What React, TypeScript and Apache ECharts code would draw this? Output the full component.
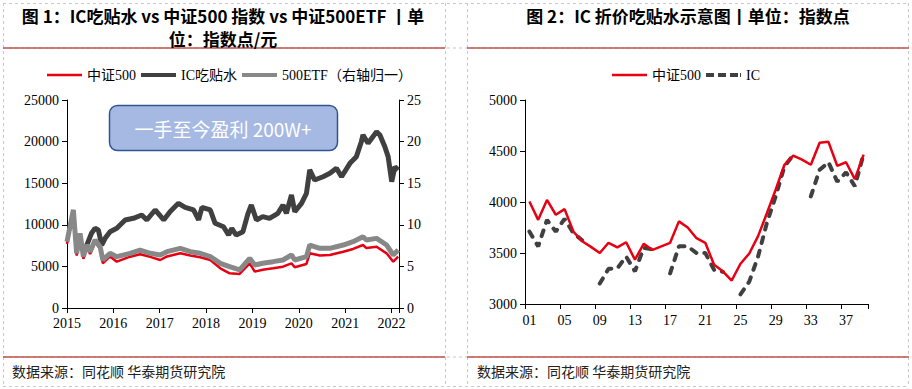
import React, { useEffect, useRef } from "react";
import * as echarts from "echarts";

// ---------- Figure 1 data ----------
const indexDates = [
  "2015-01-01", "2015-02-20", "2015-03-18", "2015-04-14", "2015-05-10", "2015-06-04",
  "2015-07-02", "2015-08-10", "2015-09-19", "2015-10-10", "2015-12-06", "2016-01-28",
  "2016-05-13", "2016-07-30", "2016-10-18", "2017-01-05", "2017-02-27", "2017-06-12",
  "2017-08-30", "2017-11-16", "2018-02-03", "2018-04-23", "2018-07-05", "2018-09-22",
  "2018-12-10", "2019-01-19", "2019-03-23", "2019-06-12", "2019-08-29", "2019-11-04",
  "2019-11-30", "2020-03-01", "2020-03-27", "2020-06-15", "2020-09-02", "2020-12-16",
  "2021-03-04", "2021-05-21", "2021-06-17", "2021-09-05", "2021-11-23", "2022-01-14",
  "2022-02-22",
];
const csi500Values = [
  7700, 11500, 6300, 8700, 5900, 7300,
  6500, 7900, 7100, 5370, 6200, 5570,
  6170, 6450, 6150, 5770, 6200, 6570,
  6300, 6090, 5770, 4770, 4170, 4090,
  5370, 4370, 4600, 4770, 4970, 5370,
  4900, 5290, 6570, 6300, 6370, 6770,
  7100, 7570, 7200, 7370, 6570, 5570,
  6170,
];
const etfValues = [
  7.97, 11.8, 6.57, 8.97, 6.17, 7.57,
  6.77, 8.17, 7.37, 5.77, 6.57, 6.17,
  6.57, 6.97, 6.57, 6.37, 6.77, 7.17,
  6.77, 6.57, 6.17, 5.37, 4.97, 4.57,
  5.97, 5.17, 5.37, 5.57, 5.77, 6.37,
  5.77, 6.17, 7.57, 7.17, 7.17, 7.57,
  7.97, 8.57, 8.17, 8.37, 7.57, 6.37,
  6.97,
];
const icDates = [
  "2015-06-04", "2015-07-13", "2015-08-09", "2015-09-05", "2015-10-01", "2015-10-28",
  "2015-12-06", "2016-01-28", "2016-04-03", "2016-06-07", "2016-08-12", "2016-09-21",
  "2016-11-26", "2017-02-01", "2017-03-23", "2017-05-28", "2017-07-20", "2017-09-24",
  "2017-11-03", "2017-11-29", "2018-02-03", "2018-03-13", "2018-05-18", "2018-06-27",
  "2018-07-22", "2018-08-26", "2018-10-18", "2018-11-27", "2018-12-23", "2019-02-01",
  "2019-03-23", "2019-05-15", "2019-07-20", "2019-08-29", "2019-09-25", "2019-11-04",
  "2019-11-30", "2020-01-22", "2020-03-01", "2020-03-27", "2020-05-05", "2020-07-10",
  "2020-09-02", "2020-10-24", "2020-12-03", "2021-02-07", "2021-03-30", "2021-05-08",
  "2021-05-21", "2021-06-30", "2021-09-05", "2021-10-01", "2021-11-09", "2021-12-05",
  "2022-01-02", "2022-01-27", "2022-02-22",
];
const icValues = [
  7500, 8980, 9580, 9375, 7570, 8380,
  9170, 9580, 10580, 10780, 11180, 10580,
  11780, 10580, 11575, 12580, 12100, 11780,
  10580, 12100, 11780, 10180, 9770, 8770,
  9570, 8770, 9170, 11380, 12380, 10580,
  10980, 10780, 11380, 12380, 11380, 13580,
  11580, 12580, 13780, 16590, 15380, 15780,
  16190, 16790, 15780, 17390, 18190, 19990,
  20800, 19800, 21190, 20800, 19390, 18190,
  15180, 16990, 16590,
];
const leftTickMin = 2015;
const leftTickMax = 2022.16;

// ---------- Figure 2 data ----------
const weekLabels = [
  "01", "02", "03", "04", "05", "06", "07", "08", "09", "10",
  "11", "12", "13", "14", "15", "16", "17", "18", "19", "20",
  "21", "22", "23", "24", "25", "26", "27", "28", "29", "30",
  "31", "32", "33", "34", "35", "36", "37", "38", "39",
];
const csi500Weekly = [
  4005, 3825, 4020, 3875, 3930, 3710, 3615, 3560, 3500, 3600,
  3555, 3605, 3435, 3590, 3530, 3565, 3600, 3810, 3750, 3645,
  3600, 3385, 3320, 3230, 3395, 3495, 3665, 3890, 4120, 4365,
  4455, 4415, 4365, 4580, 4590, 4355, 4390, 4225, 4465,
];
const icWeekly = [
  3710, 3565, 3825, 3710, 3835, 3695, 3625, null, 3200, 3345,
  3350, 3465, 3320, 3550, 3535, null, 3300, 3565, 3565, 3500,
  3500, 3335, 3315, null, 3095, 3220, 3465, 3795, 4055, 4350,
  4460, null, 4055, 4315, 4390, 4200, 4290, 4155, 4470,
];

const toYear = (s: string) => {
  const [y, m, d] = s.split("-").map(Number);
  const start = Date.UTC(y, 0, 1);
  const end = Date.UTC(y + 1, 0, 1);
  return y + (Date.UTC(y, m - 1, d) - start) / (end - start);
};

const RED = "#e60012";
const DARK = "#404040";
const GRAY = "#888888";
const SERIF = "'Liberation Serif', 'Noto Sans CJK SC', serif";
const CJK = "'Noto Sans CJK SC', sans-serif";

const ICON_THIN = "path://M0,0H35V2.5H0Z";
const ICON_THICK = "path://M0,0H35V4H0Z";
const ICON_DASH = "path://M0,0H8V4H0ZM12,0H20V4H12ZM24,0H32V4H24ZM34,0H35V4H34Z";

export default function App() {
  const ref = useRef<HTMLDivElement>(null);

  useEffect(() => {
    if (!ref.current) return;
    const chart = echarts.init(ref.current, undefined, { renderer: "svg" });

    const axisLabel = { color: "#000", fontSize: 14, fontFamily: SERIF, formatter: (v: number) => String(v) };
    const axisLine = { show: true, lineStyle: { color: "#000", width: 1 } };
    const axisTick = { show: true, length: 5, lineStyle: { color: "#000" } };

    const dashed = { stroke: "#c8c8c8", lineWidth: 1, lineDash: [3, 3] };
    const redLine = { stroke: "#c0504d", lineWidth: 1.5 };
    const hLine = (x1: number, x2: number, y: number, style: any) => ({
      type: "line", silent: true, shape: { x1, y1: y, x2, y2: y }, style,
    });
    const vLine = (x: number, y1: number, y2: number, style: any) => ({
      type: "line", silent: true, shape: { x1: x, y1, x2: x, y2 }, style,
    });
    const text = (x: number, y: number, t: string, opts: any) => ({
      type: "text", silent: true, x, y,
      style: { text: t, align: "center", verticalAlign: "middle", fill: "#000", ...opts },
    });

    chart.setOption({
      animation: false,
      backgroundColor: "#fff",
      grid: [
        { left: 67, top: 100, width: 332, height: 208 },
        { left: 525, top: 100, width: 343, height: 204 },
      ],
      legend: [
        {
          left: 42, top: 63, itemWidth: 35, itemHeight: 14, itemGap: 5,
          data: [
            { name: "中证500", icon: ICON_THIN },
            { name: "IC吃贴水", icon: ICON_THICK },
            { name: "500ETF（右轴归一）", icon: ICON_THICK },
          ],
          textStyle: { fontSize: 14, fontFamily: SERIF, color: "#000" },
        },
        {
          left: 607, top: 63, itemWidth: 35, itemHeight: 14, itemGap: 5,
          data: [
            { name: "中证500", icon: ICON_THIN },
            { name: "IC", icon: ICON_DASH },
          ],
          textStyle: { fontSize: 14, fontFamily: SERIF, color: "#000" },
        },
      ],
      xAxis: [
        {
          type: "value", gridIndex: 0, min: leftTickMin, max: leftTickMax, interval: 1,
          splitLine: { show: false }, axisLine, axisTick,
          axisLabel: {
            ...axisLabel, margin: 8,
            formatter: (v: number) => (Math.abs(v - Math.round(v)) < 1e-6 ? String(Math.round(v)) : ""),
          },
        },
        {
          type: "category", gridIndex: 1, data: weekLabels, boundaryGap: true,
          axisLine, axisTick: { ...axisTick, interval: 3 },
          axisLabel: { color: "#000", fontSize: 14, fontFamily: SERIF, interval: 3, margin: 9 },
        },
      ],
      yAxis: [
        {
          type: "value", gridIndex: 0, position: "left", min: 0, max: 25000, interval: 5000,
          splitLine: { show: false }, axisLine, axisTick, axisLabel,
        },
        {
          type: "value", gridIndex: 0, position: "right", min: 0, max: 25, interval: 5,
          splitLine: { show: false }, axisLine, axisTick, axisLabel,
        },
        {
          type: "value", gridIndex: 1, min: 3000, max: 5000, interval: 500,
          splitLine: { show: false }, axisLine, axisTick, axisLabel,
        },
      ],
      series: [
        {
          name: "中证500", type: "line", xAxisIndex: 0, yAxisIndex: 0, symbol: "none",
          data: indexDates.map((d, i) => [toYear(d), csi500Values[i]]),
          lineStyle: { color: RED, width: 2.5 }, itemStyle: { color: RED },
        },
        {
          name: "IC吃贴水", type: "line", xAxisIndex: 0, yAxisIndex: 0, symbol: "none",
          data: icDates.map((d, i) => [toYear(d), icValues[i]]),
          lineStyle: { color: DARK, width: 5 }, itemStyle: { color: DARK },
        },
        {
          name: "500ETF（右轴归一）", type: "line", xAxisIndex: 0, yAxisIndex: 1, symbol: "none",
          data: indexDates.map((d, i) => [toYear(d), etfValues[i]]),
          lineStyle: { color: GRAY, width: 5 }, itemStyle: { color: GRAY },
        },
        {
          name: "IC", type: "line", xAxisIndex: 1, yAxisIndex: 2, symbol: "none",
          data: icWeekly, connectNulls: false,
          lineStyle: { color: DARK, width: 4, type: [6, 8], cap: "round" },
          itemStyle: { color: DARK },
        },
        {
          name: "中证500", type: "line", xAxisIndex: 1, yAxisIndex: 2, symbol: "none",
          data: csi500Weekly,
          lineStyle: { color: RED, width: 2.5 }, itemStyle: { color: RED },
        },
      ],
      graphic: {
        elements: [
          hLine(3, 909, 3.5, dashed),
          hLine(3, 909, 48, dashed),
          hLine(3, 909, 357, dashed),
          hLine(3, 909, 386.5, dashed),
          vLine(3.5, 3, 387, dashed),
          vLine(445.5, 3, 387, dashed),
          vLine(467.5, 3, 387, dashed),
          vLine(908.5, 3, 387, dashed),
          hLine(3, 445, 48, redLine),
          hLine(467, 909, 48, redLine),
          hLine(3, 445, 357, redLine),
          hLine(467, 909, 357, redLine),
          text(223, 15, "图 1：IC吃贴水 vs 中证500 指数 vs 中证500ETF 丨单", {
            fontSize: 17, fontWeight: "bold", fontFamily: CJK,
          }),
          text(223, 38, "位：指数点/元", { fontSize: 17, fontWeight: "bold", fontFamily: CJK }),
          text(688, 15, "图 2：IC 折价吃贴水示意图丨单位：指数点", {
            fontSize: 17, fontWeight: "bold", fontFamily: CJK,
          }),
          {
            type: "rect", silent: true,
            shape: { x: 109.5, y: 105.5, width: 228, height: 45, r: 8 },
            style: { fill: "#a6b9e2", stroke: "#2f5597", lineWidth: 1.5 },
          },
          text(223, 128, "一手至今盈利 200W+", { fontSize: 19, fontFamily: CJK, fill: "#fff" }),
          {
            type: "text", silent: true, x: 12, y: 371,
            style: { text: "数据来源：同花顺 华泰期货研究院", fontSize: 14, fontFamily: CJK, fill: "#222", verticalAlign: "middle" },
          },
          {
            type: "text", silent: true, x: 477, y: 371,
            style: { text: "数据来源：同花顺 华泰期货研究院", fontSize: 14, fontFamily: CJK, fill: "#222", verticalAlign: "middle" },
          },
        ],
      },
    });

    return () => chart.dispose();
  }, []);

  return (
    <div
      ref={ref}
      style={{ position: "absolute", left: 0, top: 0, width: 912, height: 389, background: "#fff" }}
    />
  );
}
